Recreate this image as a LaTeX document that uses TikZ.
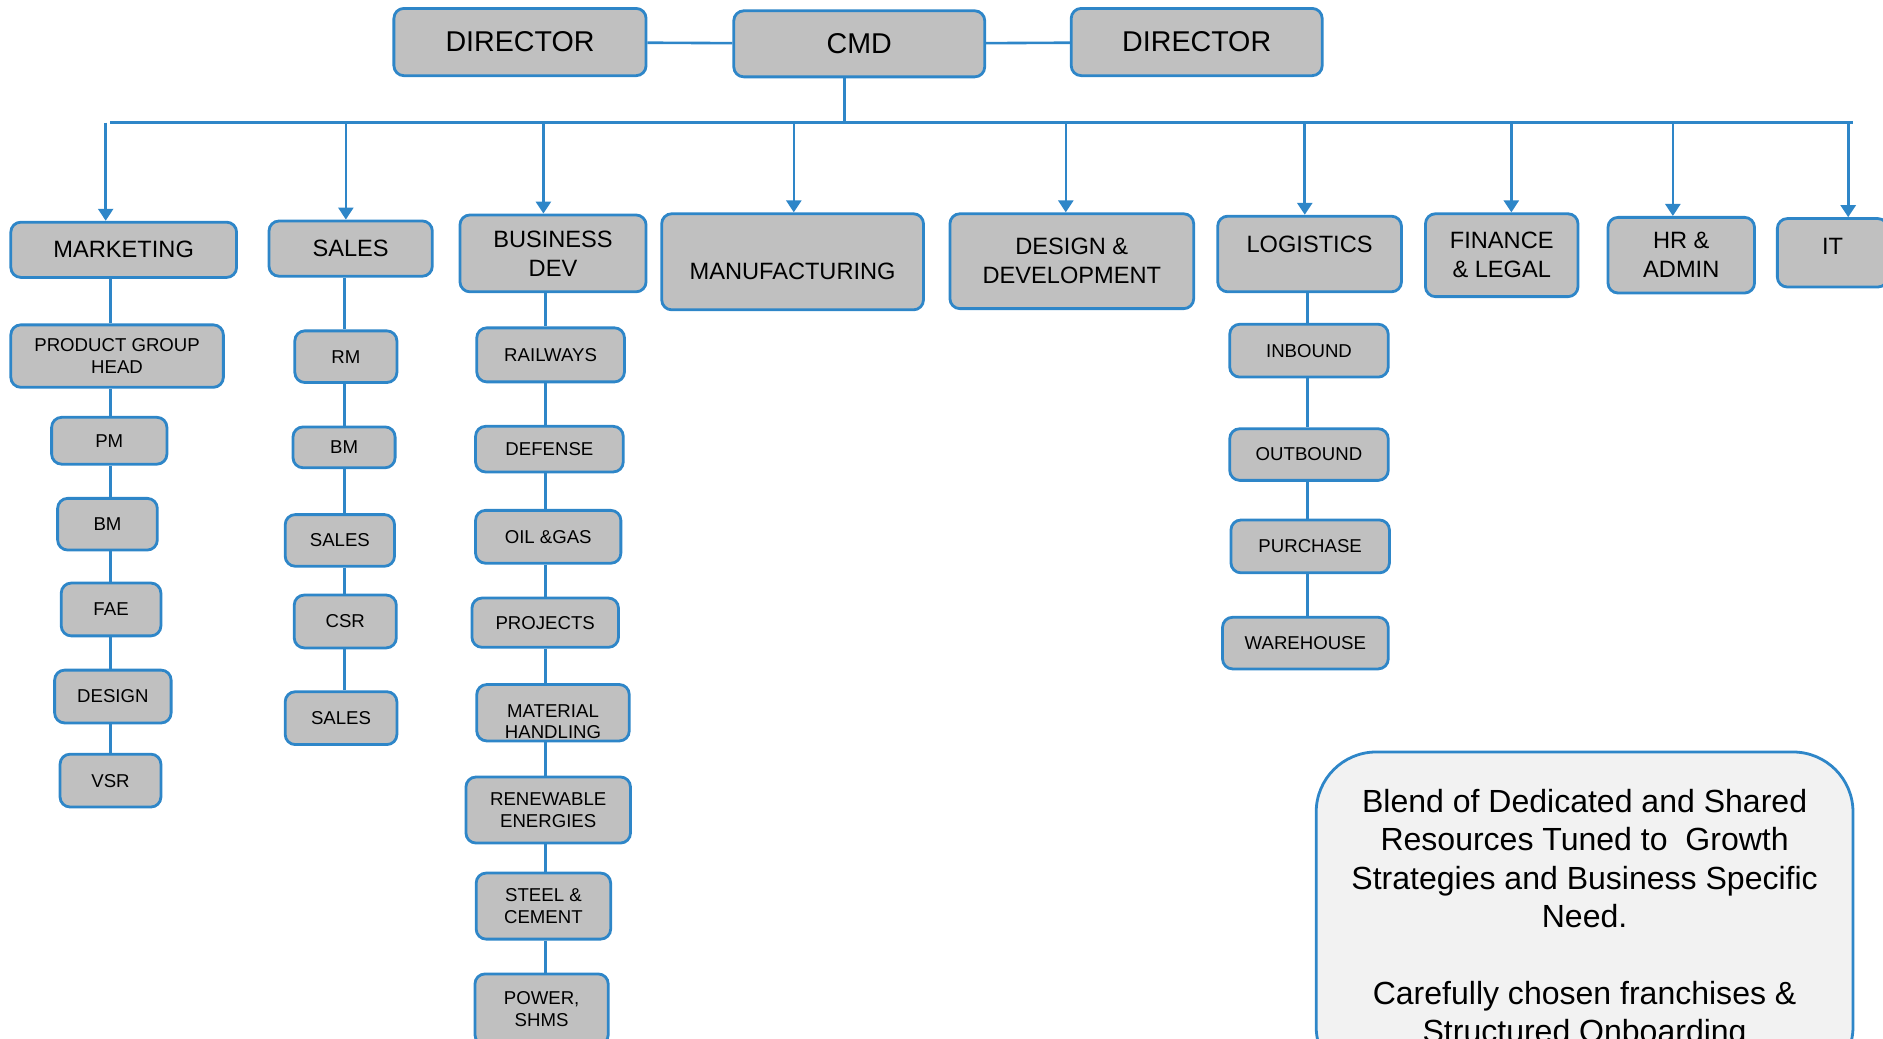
\documentclass[tikz,border=0pt]{standalone}
\usepackage{fontspec}
\setmainfont{Liberation Sans}
\usetikzlibrary{arrows.meta}

\definecolor{orgblue}{RGB}{46,134,200}
\definecolor{orggray}{RGB}{192,192,192}
\definecolor{notegray}{RGB}{242,242,242}

\tikzset{
  orgbox/.style={draw=orgblue, fill=orggray, line width=1.4pt, rounded corners=5pt, align=center, inner sep=2pt},
  topbox/.style={orgbox, font=\fontsize{14.3}{17}\selectfont},
  dept/.style={orgbox, font=\fontsize{11.8}{14.4}\selectfont},
  subbox/.style={orgbox, font=\fontsize{9.3}{10.8}\selectfont},
  sz/.style 2 args={minimum width=#1*0.6pt, minimum height=#2*0.6pt},
  link/.style={draw=orgblue, line width=1.3pt},
  arr/.style={link, -{Triangle[length=6pt, width=7.5pt]}},
}

\begin{document}
\begin{tikzpicture}[x=0.6pt, y=-0.6pt]
   \path[use as bounding box] (0,0) rectangle (1568,865);
   % board
   \node[topbox, sz={210}{56}] (dirL) at (433,35) {DIRECTOR};
   \node[topbox, sz={209}{55}] (cmd) at (715.5,36.5) {CMD};
   \node[topbox, sz={209}{56}] (dirR) at (996.5,35) {DIRECTOR};
   \draw[link] (dirL) -- (cmd);
   \draw[link] (cmd) -- (dirR);
   \coordinate (busC) at (703,102);
   \coordinate (busL) at (92,102);
   \coordinate (busR) at (1543,102);
   \draw[link] (cmd.south -| busC) -- (busC);
   \draw[link] (busL) -- (busR);
   % departments
   \node[dept, sz={188}{46}] (mkt) at (103,208) {MARKETING};
   \node[dept, sz={136}{46}] (sales) at (292,207) {SALES};
   \node[dept, sz={155}{64}] (bd) at (460.5,211) {BUSINESS\\DEV};
   \node[dept, sz={218}{80}, text height=18pt, text depth=0pt] (mfg) at (660,218) {MANUFACTURING};
   \node[dept, sz={203}{79}] (dd) at (892.5,217.5) {DESIGN \&\\DEVELOPMENT};
   \node[dept, sz={153}{63}, text height=0pt, text depth=1.8pt] (log) at (1090.5,211.5) {LOGISTICS};
   \node[dept, sz={127}{69}] (fin) at (1250.5,212.5) {FINANCE\\\& LEGAL};
   \node[dept, sz={122}{63}] (hr) at (1400,212.5) {HR \&\\ADMIN};
   \node[dept, sz={92}{57}, text height=1.8pt, text depth=0pt] (it) at (1526,210.5) {IT};
   \foreach \n/\dx in {mkt/-15, sales/-4, bd/-8, mfg/1, dd/-5, log/-4, fin/8, hr/-7, it/13}
     \draw[arr] ([xshift=\dx*0.6pt]\n.north |- busL) -- ([xshift=\dx*0.6pt]\n.north);
   % marketing
   \node[subbox, sz={177}{52}] (pgh) at (97.5,296.5) {PRODUCT GROUP\\HEAD};
   \node[subbox, sz={96}{39}] (pm) at (91,367) {PM};
   \node[subbox, sz={83}{43}] (bmM) at (89.5,436.5) {BM};
   \node[subbox, sz={83}{44}] (fae) at (92.5,507.5) {FAE};
   \node[subbox, sz={97}{44}] (design) at (94,580) {DESIGN};
   \node[subbox, sz={84}{44}] (vsr) at (92,650) {VSR};
   \coordinate (colM) at (92,0);
   \foreach \a/\b in {mkt/pgh, pgh/pm, pm/bmM, bmM/fae, fae/design, design/vsr}
     \draw[link] (\a.south -| colM) -- (\b.north -| colM);
   % sales
   \node[subbox, sz={85}{43}] (rm) at (288,297) {RM};
   \node[subbox, sz={85}{34}] (bmS) at (286.5,372.5) {BM};
   \node[subbox, sz={91}{43}] (salesA) at (283,450) {SALES};
   \node[subbox, sz={85}{44}] (csr) at (287.5,517.5) {CSR};
   \node[subbox, sz={93}{44}] (salesB) at (284,598) {SALES};
   \coordinate (colS) at (287,0);
   \foreach \a/\b in {sales/rm, rm/bmS, bmS/salesA, salesA/csr, csr/salesB}
     \draw[link] (\a.south -| colS) -- (\b.north -| colS);
   % business development
   \node[subbox, sz={123}{45}] (rail) at (458.5,295.5) {RAILWAYS};
   \node[subbox, sz={123}{38}] (def) at (457.5,374) {DEFENSE};
   \node[subbox, sz={121}{44}] (oil) at (456.5,447) {OIL \&GAS};
   \node[subbox, sz={122}{41}] (proj) at (454,518.5) {PROJECTS};
   \node[subbox, sz={127}{47}, inner ysep=0pt] (mat) at (460.5,593.5) {\rule{0pt}{15.5pt}MATERIAL\\HANDLING};
   \node[subbox, sz={137}{55}] (ren) at (456.5,674.5) {RENEWABLE\\ENERGIES};
   \node[subbox, sz={112}{55}] (steel) at (452.5,754.5) {STEEL \&\\CEMENT};
   \node[subbox, sz={111}{59}] (power) at (451,840.5) {POWER,\\SHMS};
   \coordinate (colB) at (454,0);
   \foreach \a/\b in {bd/rail, rail/def, def/oil, oil/proj, proj/mat, mat/ren, ren/steel, steel/power}
     \draw[link] (\a.south -| colB) -- (\b.north -| colB);
   % logistics
   \node[subbox, sz={132}{44}] (inb) at (1090,292) {INBOUND};
   \node[subbox, sz={132}{43}] (outb) at (1090,378.5) {OUTBOUND};
   \node[subbox, sz={132}{44}] (purch) at (1091,455) {PURCHASE};
   \node[subbox, sz={138}{43}] (ware) at (1087,535.5) {WAREHOUSE};
   \coordinate (colL) at (1089,0);
   \foreach \a/\b in {log/inb, inb/outb, outb/purch, purch/ware}
     \draw[link] (\a.south -| colL) -- (\b.north -| colL);
   % note
   \node[draw=orgblue, fill=notegray, line width=1.4pt, rounded corners=30pt, anchor=north,
         minimum width=447*0.6pt, inner ysep=18.6pt, align=center,
         font=\fontsize{16}{19.2}\selectfont] (note) at (1319.5,625)
     {Blend of Dedicated and Shared\\Resources Tuned to\ \ Growth\\Strategies and Business Specific\\Need.\\[19.2pt]Carefully chosen franchises \&\\Structured Onboarding};
\end{tikzpicture}
\end{document}
